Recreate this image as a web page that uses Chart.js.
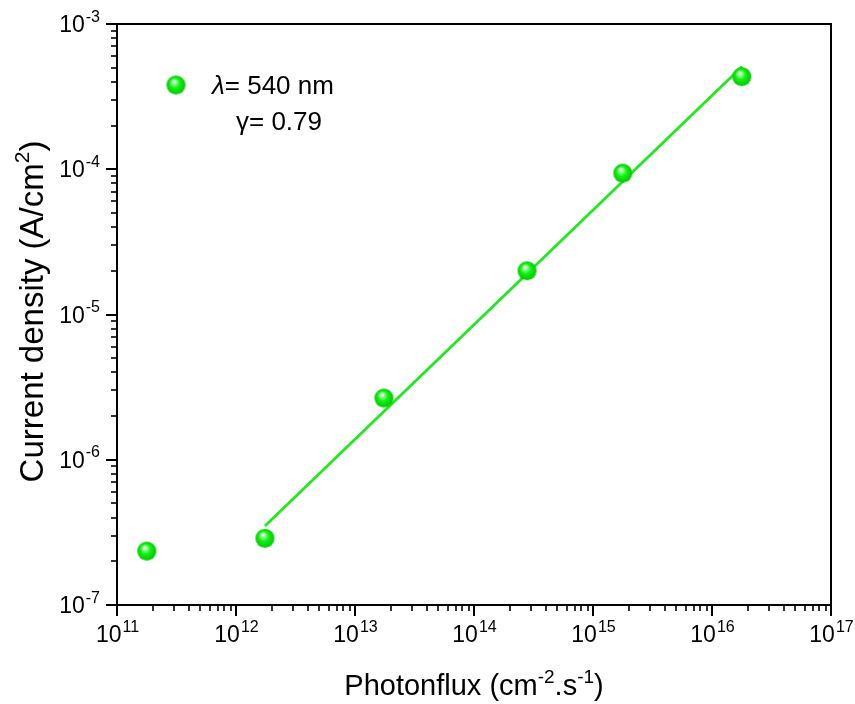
<!DOCTYPE html>
<html>
<head>
<meta charset="utf-8">
<script src="https://cdn.jsdelivr.net/npm/chart.js@4.4.0/dist/chart.umd.min.js"></script>
<style>
    html, body { margin: 0; padding: 0; background: #fff; }
    #wrap { width: 855px; height: 704px; }
</style>
</head>
<body>
<div id="wrap"><canvas id="photoChart" width="855" height="704"></canvas></div>
<script>
const photonFlux = [1.78e11, 1.75e12, 1.75e13, 2.79e14, 1.78e15, 1.78e16];
const currentDensity = [2.35e-7, 2.88e-7, 2.66e-6, 2.0e-5, 9.4e-5, 4.34e-4];
// power-law fit, gamma = 0.79
const fitFlux = [1.75e12, 1.79e16];
const fitCurrent = [3.5e-7, 5.1e-4];
// decade tick labels
const xExponents = [11, 12, 13, 14, 15, 16, 17];
const yExponents = [-7, -6, -5, -4, -3];
const legendLines = ['\u03BB', '= 540 nm', '\u03B3', '= 0.79'];

const FONT = '"Liberation Sans", Arial, sans-serif';
const GREEN = '#22e822';

// small shaded ball used as the marker
function makeSphere(r) {
    const s = r * 2 + 2;
    const c = document.createElement('canvas');
    c.width = s; c.height = s;
    const g = c.getContext('2d');
    const cx = s / 2, cy = s / 2;
    const grad = g.createRadialGradient(cx - r * 0.25, cy - r * 0.4, r * 0.05, cx, cy, r);
    grad.addColorStop(0, '#ffffff');
    grad.addColorStop(0.2, '#8dff8d');
    grad.addColorStop(0.5, '#14f014');
    grad.addColorStop(1, '#00c800');
    g.fillStyle = grad;
    g.beginPath();
    g.arc(cx, cy, r, 0, Math.PI * 2);
    g.fill();
    return c;
}
const sphere = makeSphere(9.5);

// draws "10" with a raised exponent
function drawPow(ctx, base, exp, x, y, align, size, supSize) {
    ctx.font = size + 'px ' + FONT;
    const wb = ctx.measureText(base).width;
    ctx.font = supSize + 'px ' + FONT;
    const we = ctx.measureText(exp).width;
    let left = x;
    if (align === 'center') left = x - (wb + we) / 2;
    if (align === 'right') left = x - wb - we;
    ctx.textAlign = 'left';
    ctx.textBaseline = 'alphabetic';
    ctx.font = size + 'px ' + FONT;
    ctx.fillText(base, left, y);
    ctx.font = supSize + 'px ' + FONT;
    ctx.fillText(exp, left + wb + 1, y - size * 0.45);
}

// text made of [string, isSup] parts, centred on x
function drawRich(ctx, parts, x, y, size, supSize) {
    let total = 0;
    const widths = parts.map(p => {
        ctx.font = (p[1] ? supSize : size) + 'px ' + FONT;
        const w = ctx.measureText(p[0]).width;
        total += w;
        return w;
    });
    let cx = x - total / 2;
    ctx.textAlign = 'left';
    ctx.textBaseline = 'alphabetic';
    parts.forEach((p, i) => {
        ctx.font = (p[1] ? supSize : size) + 'px ' + FONT;
        ctx.fillText(p[0], cx, p[1] ? y - size * 0.42 : y);
        cx += widths[i];
    });
}

const axisDecor = {
    id: 'axisDecor',
    afterDraw(chart) {
        const ctx = chart.ctx;
        const a = chart.chartArea;
        const xs = chart.scales.x, ys = chart.scales.y;
        ctx.save();
        ctx.strokeStyle = '#000';
        ctx.fillStyle = '#000';
        ctx.lineWidth = 2;
        ctx.beginPath();
        ctx.moveTo(a.left, a.top);
        ctx.lineTo(a.right, a.top);
        ctx.lineTo(a.right, a.bottom);
        ctx.lineTo(a.left, a.bottom);
        ctx.closePath();
        ctx.stroke();

        // x ticks (outward, below)
        for (let i = 0; i < xExponents.length; i++) {
            const e = xExponents[i];
            const last = i === xExponents.length - 1;
            for (let m = 1; m <= (last ? 1 : 9); m++) {
                const px = Math.round(xs.getPixelForValue(m * Math.pow(10, e)));
                const len = m === 1 ? 11 : 6;
                ctx.lineWidth = m === 1 ? 2 : 1.6;
                ctx.beginPath();
                ctx.moveTo(px, a.bottom);
                ctx.lineTo(px, a.bottom + len);
                ctx.stroke();
            }
            const px = xs.getPixelForValue(Math.pow(10, e));
            drawPow(ctx, '10', String(e), px, a.bottom + 37, 'center', 23, 16);
        }

        // y ticks (outward, left)
        for (let i = 0; i < yExponents.length; i++) {
            const e = yExponents[i];
            const last = i === yExponents.length - 1;
            for (let m = 1; m <= (last ? 1 : 9); m++) {
                const py = Math.round(ys.getPixelForValue(m * Math.pow(10, e)));
                const len = m === 1 ? 11 : 6;
                ctx.lineWidth = m === 1 ? 2 : 1.6;
                ctx.beginPath();
                ctx.moveTo(a.left, py);
                ctx.lineTo(a.left - len, py);
                ctx.stroke();
            }
            const py = ys.getPixelForValue(Math.pow(10, e));
            drawPow(ctx, '10', String(e), a.left - 18, py + 8, 'right', 23, 16);
        }

        // axis titles
        drawRich(ctx, [['Photonflux (cm', false], ['-2', true], ['.s', false], ['-1', true], [')', false]],
            (a.left + a.right) / 2, 695, 29, 19);
        ctx.save();
        ctx.translate(43, (a.top + a.bottom) / 2 - 3);
        ctx.rotate(-Math.PI / 2);
        drawRich(ctx, [['Current density (A/cm', false], ['2', true], [')', false]], 0, 0, 33, 21);
        ctx.restore();

        // legend
        ctx.drawImage(sphere, 176 - sphere.width / 2, 85 - sphere.height / 2);
        ctx.textAlign = 'left';
        ctx.textBaseline = 'alphabetic';
        ctx.font = 'italic 26px ' + FONT;
        ctx.fillText(legendLines[0], 212, 94);
        let w = ctx.measureText(legendLines[0]).width;
        ctx.font = '26px ' + FONT;
        ctx.fillText(legendLines[1], 212 + w, 94);
        ctx.fillText(legendLines[2], 236, 130);
        w = ctx.measureText(legendLines[2]).width;
        ctx.fillText(legendLines[3], 236 + w, 130);
        ctx.restore();
    }
};

const ctx = document.getElementById('photoChart').getContext('2d');
new Chart(ctx, {
    type: 'scatter',
    data: {
        datasets: [{
            label: 'data',
            data: photonFlux.map((x, i) => ({ x: x, y: currentDensity[i] })),
            pointStyle: sphere,
            pointRadius: 9,
            pointHoverRadius: 9
        }, {
            label: 'fit',
            data: fitFlux.map((x, i) => ({ x: x, y: fitCurrent[i] })),
            showLine: true,
            borderColor: GREEN,
            borderWidth: 2.8,
            pointRadius: 0
        }]
    },
    options: {
        responsive: false,
        animation: false,
        devicePixelRatio: 1,
        layout: { padding: { left: 117, right: 24, top: 24, bottom: 99 } },
        plugins: { legend: { display: false }, tooltip: { enabled: false } },
        scales: {
            x: {
                type: 'logarithmic',
                min: 1e11, max: 1e17,
                ticks: { display: false },
                grid: { display: false, drawTicks: false },
                border: { display: true, color: '#000', width: 2 }
            },
            y: {
                type: 'logarithmic',
                min: 1e-7, max: 1e-3,
                ticks: { display: false },
                grid: { display: false, drawTicks: false },
                border: { display: true, color: '#000', width: 2 }
            }
        }
    },
    plugins: [axisDecor]
});
</script>
</body>
</html>
